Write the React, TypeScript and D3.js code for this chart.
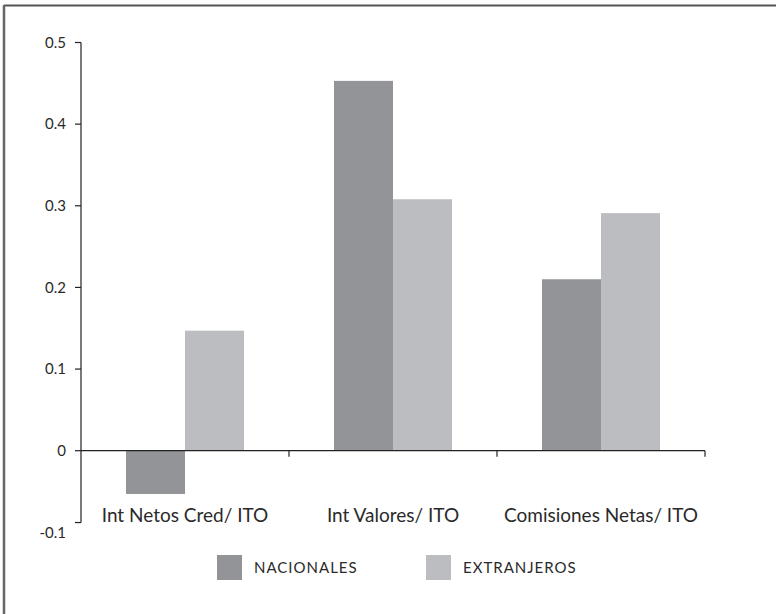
import React from "react";
import * as d3 from "d3";

const categories = ["Int Netos Cred/ ITO", "Int Valores/ ITO", "Comisiones Netas/ ITO"];
const seriesNames = ["NACIONALES", "EXTRANJEROS"];
const nacionales = [-0.053, 0.453, 0.21];
const extranjeros = [0.147, 0.308, 0.291];
const yTicks = [0.5, 0.4, 0.3, 0.2, 0.1, 0];
const yTickLabels = ["0.5", "0.4", "0.3", "0.2", "0.1", "0"];
const colors = ["#939497", "#bcbdc1"];

export default function App() {
  const W = 776, H = 614;
  const x0 = 81, x1 = 705;
  const y = d3.scaleLinear().domain([0, 0.5]).range([450.7, 42.5]);
  const x = d3.scaleBand().domain(categories).range([x0, x1]).paddingInner(0).paddingOuter(0);
  const inner = d3.scaleBand().domain(seriesNames).range([0, 118]);
  const groupOffset = (x.bandwidth() - 118) / 2;
  const series = [nacionales, extranjeros];
  const font = "Lato, 'Open Sans', sans-serif";
  const axisBottom = y(-0.088);
  const textColor = "#2a2a2a";
  return (
    <svg width={W} height={H} style={{ position: "absolute", left: 0, top: 0, background: "#fff" }} fontFamily={font}>
      <rect x={0} y={0} width={W} height={H} fill="#fff" />
      {/* frame */}
      <line x1={4} y1={5.5} x2={W} y2={5.5} stroke="#555" strokeWidth={2} />
      <line x1={4} y1={5} x2={4} y2={H} stroke="#666" strokeWidth={2.5} />
      {/* bars */}
      {categories.map((c, i) =>
        series.map((s, j) => {
          const v = s[i];
          const bx = (x(c) as number) + groupOffset + (inner(seriesNames[j]) as number);
          const top = Math.min(y(v), y(0));
          const h = Math.abs(y(v) - y(0));
          return <rect key={c + j} x={bx} y={top} width={inner.bandwidth()} height={h} fill={colors[j]} />;
        })
      )}
      {/* y axis */}
      <line x1={x0} y1={y(0.5)} x2={x0} y2={axisBottom} stroke="#222" strokeWidth={1.2} />
      {yTicks.map((t, i) => (
        <g key={t}>
          <line x1={x0 - 6} x2={x0} y1={y(t)} y2={y(t)} stroke="#222" strokeWidth={1.2} />
          <text x={66} y={y(t)} dy="0.35em" textAnchor="end" fontSize={15} fill={textColor}>{yTickLabels[i]}</text>
        </g>
      ))}
      <line x1={x0 - 6} x2={x0} y1={axisBottom} y2={axisBottom} stroke="#222" strokeWidth={1.2} />
      <text x={66} y={axisBottom + 10} dy="0.35em" textAnchor="end" fontSize={15} fill={textColor}>-0.1</text>
      {/* x axis */}
      <line x1={x0} x2={x1} y1={y(0)} y2={y(0)} stroke="#222" strokeWidth={1.2} />
      {categories.map((c) => (
        <line key={c + "t"} x1={(x(c) as number) + x.bandwidth()} x2={(x(c) as number) + x.bandwidth()} y1={y(0)} y2={y(0) + 6} stroke="#222" strokeWidth={1.2} />
      ))}
      {categories.map((c) => (
        <text key={c + "l"} x={(x(c) as number) + x.bandwidth() / 2} y={515} dy="0.35em" textAnchor="middle" fontSize={19} fill={textColor}>{c}</text>
      ))}
      {/* legend */}
      {seriesNames.map((n, j) => {
        const lx = [217, 426][j];
        return (
          <g key={n}>
            <rect x={lx} y={555} width={25} height={25} fill={colors[j]} />
            <text x={lx + 37} y={567.5} dy="0.35em" fontSize={15} letterSpacing={1} fill={textColor}>{n}</text>
          </g>
        );
      })}
    </svg>
  );
}
